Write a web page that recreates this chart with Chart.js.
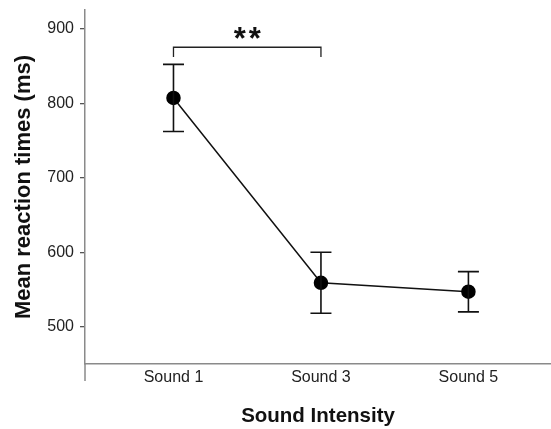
<!DOCTYPE html>
<html><head><meta charset="utf-8">
<script src="https://cdn.jsdelivr.net/npm/chart.js@4/dist/chart.umd.min.js"></script>
<style>html,body{margin:0;padding:0;background:#fff;overflow:hidden}#wrap{width:551px;height:429px}</style>
</head><body><div id="wrap"><canvas id="c" width="551" height="429"></canvas></div>
<script>
const categories = ['Sound 1', 'Sound 3', 'Sound 5'];
const positions = [1, 2, 3];
const means = [807, 559, 547];
const lowerErr = [762, 518, 520];
const upperErr = [852, 600, 574];
const yTicks = [500, 600, 700, 800, 900];
const sigPair = [1, 2];
const sigBracket = [875, 862];
const sigLabel = '**';

const FONT = "'Liberation Sans', Arial, Helvetica, sans-serif";

const overlay = {
  id: 'overlay',
  afterDatasetsDraw(chart) {
    const ctx = chart.ctx, x = chart.scales.x, y = chart.scales.y;
    ctx.save();
    // error bars
    ctx.strokeStyle = '#111'; ctx.lineWidth = 1.6;
    for (let i = 0; i < means.length; i++) {
      const px = x.getPixelForValue(positions[i]);
      const t = y.getPixelForValue(upperErr[i]), b = y.getPixelForValue(lowerErr[i]);
      ctx.beginPath();
      ctx.moveTo(px, t); ctx.lineTo(px, b);
      ctx.moveTo(px - 10.5, t); ctx.lineTo(px + 10.5, t);
      ctx.moveTo(px - 10.5, b); ctx.lineTo(px + 10.5, b);
      ctx.stroke();
    }
    // significance bracket
    const x1 = x.getPixelForValue(sigPair[0]), x2 = x.getPixelForValue(sigPair[1]);
    const yt = y.getPixelForValue(sigBracket[0]), yb = y.getPixelForValue(sigBracket[1]);
    ctx.lineWidth = 1.3; ctx.strokeStyle = '#222';
    ctx.beginPath();
    ctx.moveTo(x1, yb); ctx.lineTo(x1, yt); ctx.lineTo(x2, yt); ctx.lineTo(x2, yb);
    ctx.stroke();
    ctx.fillStyle = '#111';
    ctx.font = 'bold 31px ' + FONT;
    ctx.letterSpacing = '3px';
    ctx.textAlign = 'center'; ctx.textBaseline = 'alphabetic';
    ctx.fillText(sigLabel, (x1 + x2) / 2 + 1.5, yt + 2);
    ctx.letterSpacing = '0px';
    // y-axis line extension below x axis
    ctx.strokeStyle = '#8a8a8a'; ctx.lineWidth = 1.5;
    ctx.beginPath();
    ctx.moveTo(chart.chartArea.left, chart.chartArea.bottom);
    ctx.lineTo(chart.chartArea.left, chart.chartArea.bottom + 17);
    ctx.stroke();
    ctx.restore();
  }
};

new Chart(document.getElementById('c'), {
  type: 'line',
  data: {
    datasets: [{
      data: positions.map((p, i) => ({ x: p, y: means[i] })),
      borderColor: '#111', borderWidth: 1.5,
      pointBackgroundColor: '#000', pointBorderColor: '#000',
      pointRadius: 6.5, pointHoverRadius: 6.5, tension: 0
    }]
  },
  options: {
    responsive: false, animation: false,
    layout: { padding: { top: 10, left: 0, right: 0, bottom: 0 }, autoPadding: false },
    plugins: { legend: { display: false }, tooltip: { enabled: false } },
    scales: {
      x: {
        type: 'linear', min: 0.4, max: 3.56,
        afterBuildTicks(s) { s.ticks = positions.map(v => ({ value: v })); },
        afterFit(s) { s.height = 65; s.paddingLeft = 0; s.paddingRight = 0; },
        ticks: { callback: (v) => categories[positions.indexOf(v)] ?? '', color: '#222', font: { family: FONT, size: 16 }, padding: 4, maxRotation: 0, autoSkip: false },
        grid: { display: false, drawTicks: false },
        border: { color: '#8a8a8a', width: 1.5 },
        title: { display: true, text: 'Sound Intensity', color: '#111', font: { family: FONT, size: 20.5, weight: 'bold' }, padding: { top: 17, bottom: 0 } }
      },
      y: {
        min: 450, max: 925,
        afterBuildTicks(s) { s.ticks = yTicks.map(v => ({ value: v })); },
        afterFit(s) { s.width = 85; s.paddingTop = 0; s.paddingBottom = 0; },
        ticks: { color: '#222', font: { family: FONT, size: 16 }, padding: 6 },
        grid: { display: true, drawOnChartArea: false, drawTicks: true, tickLength: 5, color: '#555', lineWidth: 1.3 },
        border: { color: '#8a8a8a', width: 1.5 },
        title: { display: true, text: 'Mean reaction times (ms)', color: '#111', font: { family: FONT, size: 22, weight: 'bold' }, padding: { top: 11, bottom: 0 } }
      }
    }
  },
  plugins: [overlay]
});
</script></body></html>
